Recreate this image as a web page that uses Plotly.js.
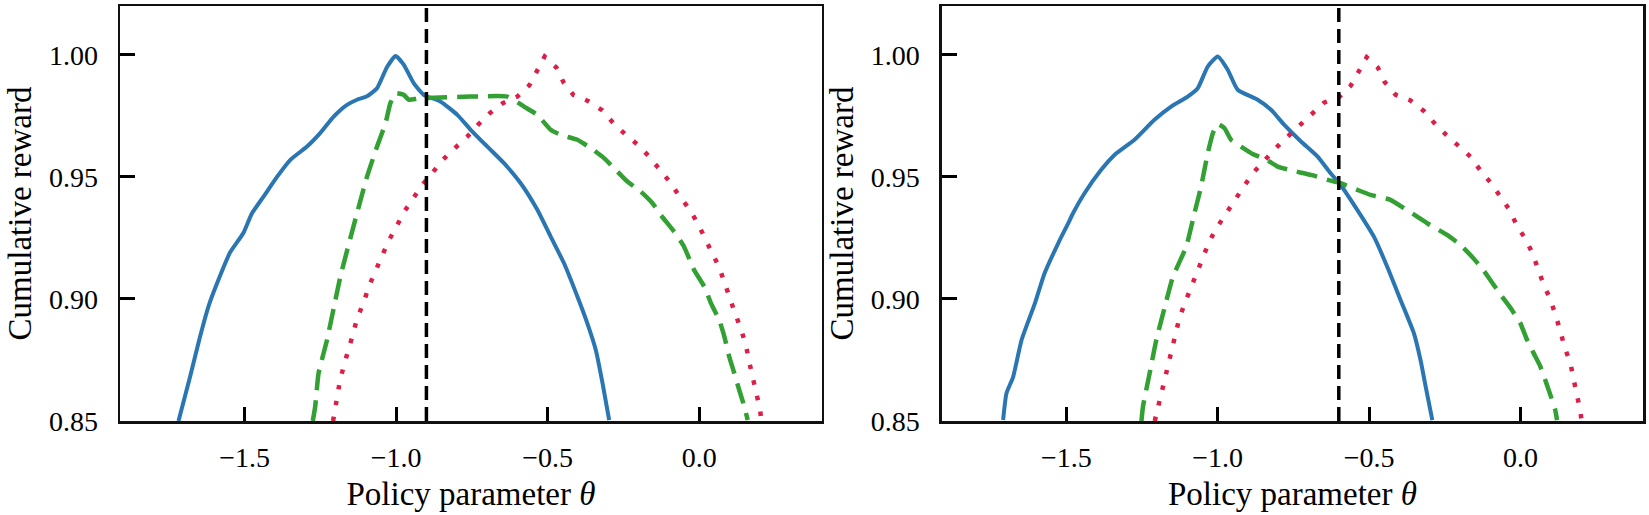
<!DOCTYPE html>
<html>
<head>
<meta charset="utf-8">
<script src="https://cdn.plot.ly/plotly-3.0.1.min.js"></script>
<style>html,body{margin:0;padding:0;background:#fff;}#chart{width:1649px;height:515px;}</style>
</head>
<body>
<div id="chart"></div>
<script>
// ---- Data ----
const thetaRef = [-0.9, -0.6];   // vertical dashed reference line per panel

// Left panel
const blueL_x = [-1.718,-1.680,-1.647,-1.619,-1.592,-1.548,-1.504,-1.476,-1.437,-1.393,-1.349,-1.294,-1.250,-1.206,-1.162,-1.129,-1.096,-1.063,-1.030,-1.002,-0.975,-0.942,-0.909,-0.854,-0.798,-0.754,-0.699,-0.644,-0.589,-0.534,-0.490,-0.446,-0.402,-0.369,-0.341,-0.319,-0.297];
const blueL_y = [0.850,0.868,0.8845,0.897,0.906,0.919,0.927,0.935,0.942,0.950,0.957,0.9624,0.968,0.9747,0.9795,0.9816,0.983,0.9863,0.995,0.9995,0.996,0.9884,0.9836,0.9809,0.9754,0.9693,0.9624,0.9556,0.9474,0.9365,0.9255,0.9146,0.901,0.890,0.879,0.8655,0.8504];

const greenL_x = [-1.275,-1.267,-1.256,-1.228,-1.206,-1.184,-1.157,-1.129,-1.096,-1.063,-1.035,-1.019,-1.002,-0.975,-0.958,-0.930,-0.898,-0.754,-0.633,-0.578,-0.534,-0.490,-0.457,-0.402,-0.358,-0.314,-0.281,-0.237,-0.193,-0.154,-0.127,-0.083,-0.050,-0.017,0.017,0.039,0.066,0.083,0.099,0.116,0.132,0.149,0.160];
const greenL_y = [0.850,0.8559,0.8695,0.8832,0.8962,0.9091,0.9221,0.9351,0.9501,0.9624,0.972,0.9802,0.9843,0.9836,0.9816,0.9820,0.9823,0.9829,0.9829,0.9788,0.9754,0.9693,0.9672,0.9652,0.9618,0.9577,0.9536,0.9481,0.944,0.9392,0.9344,0.9276,0.9214,0.9119,0.905,0.8982,0.8914,0.8846,0.8764,0.8695,0.8627,0.8559,0.8504];

const redL_x = [-1.208,-1.195,-1.186,-1.173,-1.157,-1.142,-1.129,-1.107,-1.091,-1.068,-1.046,-1.026,-0.999,-0.975,-0.945,-0.914,-0.879,-0.846,-0.806,-0.765,-0.730,-0.691,-0.648,-0.600,-0.560,-0.534,-0.510,-0.471,-0.448,-0.415,-0.367,-0.319,-0.283,-0.245,-0.202,-0.165,-0.130,-0.096,-0.066,-0.033,-0.005,0.017,0.042,0.066,0.083,0.099,0.119,0.138,0.154,0.165,0.177,0.190,0.201,0.205];
const redL_y = [0.850,0.8593,0.866,0.8725,0.879,0.8857,0.892,0.8985,0.9048,0.9112,0.9173,0.9235,0.9296,0.9354,0.9409,0.9467,0.9519,0.957,0.9618,0.9665,0.9713,0.9761,0.9802,0.9829,0.9876,0.9936,0.9993,0.9948,0.9888,0.9836,0.9811,0.9772,0.972,0.9676,0.9631,0.9583,0.9532,0.9478,0.9422,0.9369,0.931,0.9249,0.919,0.913,0.9067,0.9003,0.8939,0.8876,0.8811,0.8743,0.8678,0.8613,0.8545,0.850];

// Right panel
const blueR_x = [-1.709,-1.698,-1.676,-1.648,-1.604,-1.572,-1.527,-1.494,-1.478,-1.440,-1.385,-1.341,-1.275,-1.209,-1.154,-1.099,-1.066,-1.033,-1.000,-0.967,-0.934,-0.868,-0.824,-0.780,-0.725,-0.670,-0.627,-0.594,-0.539,-0.484,-0.440,-0.396,-0.352,-0.330,-0.313,-0.291];
const blueR_y = [0.8504,0.8613,0.868,0.8832,0.8982,0.9105,0.9228,0.931,0.9351,0.9433,0.9529,0.959,0.9652,0.9734,0.9788,0.9829,0.9863,0.9952,0.9993,0.9939,0.9857,0.9816,0.9775,0.9713,0.9645,0.9583,0.9515,0.9467,0.9365,0.9255,0.9132,0.8996,0.886,0.875,0.8641,0.8504];

const greenR_x = [-1.252,-1.247,-1.225,-1.203,-1.176,-1.148,-1.104,-1.077,-1.055,-1.033,-1.016,-1.000,-0.978,-0.956,-0.923,-0.885,-0.841,-0.802,-0.748,-0.692,-0.637,-0.594,-0.539,-0.495,-0.429,-0.385,-0.341,-0.308,-0.242,-0.198,-0.160,-0.127,-0.088,-0.061,-0.028,0.000,0.022,0.044,0.066,0.082,0.099,0.115,0.121];
const greenR_y = [0.850,0.8559,0.8695,0.8832,0.8962,0.9091,0.9214,0.9351,0.946,0.9597,0.9679,0.9717,0.970,0.9652,0.9624,0.9594,0.9572,0.9542,0.9524,0.9508,0.9488,0.9474,0.9447,0.9426,0.9406,0.9372,0.9337,0.931,0.9262,0.9221,0.9173,0.9126,0.9057,0.901,0.8955,0.890,0.8832,0.8777,0.8723,0.8668,0.8607,0.8545,0.8504];

const redR_x = [-1.208,-1.190,-1.178,-1.167,-1.154,-1.140,-1.127,-1.108,-1.088,-1.068,-1.046,-1.028,-1.002,-0.973,-0.942,-0.912,-0.879,-0.843,-0.808,-0.769,-0.729,-0.689,-0.649,-0.597,-0.561,-0.533,-0.508,-0.471,-0.448,-0.412,-0.363,-0.319,-0.284,-0.245,-0.204,-0.165,-0.132,-0.099,-0.066,-0.036,-0.014,0.016,0.040,0.060,0.077,0.099,0.117,0.132,0.145,0.165,0.175,0.187,0.198,0.202];
const redR_y = [0.850,0.8591,0.8657,0.8725,0.879,0.8855,0.892,0.8985,0.9048,0.9112,0.9173,0.9235,0.9294,0.9351,0.9409,0.9464,0.9522,0.9573,0.9618,0.9665,0.9712,0.9757,0.9804,0.9829,0.9873,0.9934,0.999,0.9948,0.9888,0.9836,0.9813,0.977,0.972,0.9672,0.9627,0.9583,0.9526,0.9477,0.9419,0.9365,0.9307,0.9246,0.9187,0.9122,0.9057,0.8999,0.8934,0.887,0.8805,0.8739,0.8675,0.861,0.8541,0.850];

const xTicks = [-1.5, -1.0, -0.5, 0.0];
const yTicks = [0.85, 0.90, 0.95, 1.00];
const xRange = [-1.911, 0.405];
const yRange = [0.85, 1.02];

// ---- Styles ----
const FONT = '"Liberation Serif", "Times New Roman", serif';
const cBlue = '#2a76b2', cGreen = '#33a033', cRed = '#dc1f48';

function series(x, y, xa, ya) {
  return [
    {x: x.blue, y: y.blue, xaxis: xa, yaxis: ya, type: 'scatter', mode: 'lines',
     line: {color: cBlue, width: 4, shape: 'spline', smoothing: 0.5}, showlegend: false, hoverinfo: 'skip'},
    {x: x.green, y: y.green, xaxis: xa, yaxis: ya, type: 'scatter', mode: 'lines',
     line: {color: cGreen, width: 4.5, dash: '21px,10px', shape: 'spline', smoothing: 0.4}, showlegend: false, hoverinfo: 'skip'},
    {x: x.red, y: y.red, xaxis: xa, yaxis: ya, type: 'scatter', mode: 'lines',
     line: {color: cRed, width: 4.5, dash: '4.5px,11.5px'}, showlegend: false, hoverinfo: 'skip'}
  ];
}

const data = [].concat(
  series({blue: blueL_x, green: greenL_x, red: redL_x}, {blue: blueL_y, green: greenL_y, red: redL_y}, 'x', 'y'),
  series({blue: blueR_x, green: greenR_x, red: redR_x}, {blue: blueR_y, green: greenR_y, red: redR_y}, 'x2', 'y2')
);

function xAxis(domain, anchor) {
  return {
    domain: domain, anchor: anchor, range: xRange,
    tickvals: xTicks, tickformat: '.1f',
    ticks: 'inside', ticklen: 14, tickwidth: 3, tickcolor: '#000',
    showline: true, linecolor: '#111', linewidth: 2.5, mirror: true,
    showgrid: false, zeroline: false,
    ticklabelstandoff: 10,
    tickfont: {family: FONT, size: 28, color: '#000'},
    title: {text: 'Policy parameter <i>θ</i>', font: {family: FONT, size: 33, color: '#000'}, standoff: 10}
  };
}
function yAxis(anchor) {
  return {
    anchor: anchor, range: yRange,
    tickvals: yTicks, tickformat: '.2f',
    ticks: 'inside', ticklen: 15, tickwidth: 3, tickcolor: '#000',
    showline: true, linecolor: '#111', linewidth: 2.5, mirror: true,
    showgrid: false, zeroline: false,
    ticklabelstandoff: 14,
    tickfont: {family: FONT, size: 28, color: '#000'},
    title: {text: 'Cumulative reward', font: {family: FONT, size: 33, color: '#000'}, standoff: 8}
  };
}

const shapes = [
  {type: 'line', xref: 'x', yref: 'y domain', x0: thetaRef[0], x1: thetaRef[0], y0: 0, y1: 1,
   line: {color: '#000', width: 3.5, dash: '14px,7px'}},
  {type: 'line', xref: 'x2', yref: 'y2 domain', x0: thetaRef[1], x1: thetaRef[1], y0: 0, y1: 1,
   line: {color: '#000', width: 3.5, dash: '14px,7px'}}
];

const layout = {
  width: 1649, height: 515,
  margin: {l: 120, r: 6, t: 6, b: 94},
  paper_bgcolor: '#fff', plot_bgcolor: '#fff',
  xaxis: xAxis([0, 0.4609], 'y'),
  yaxis: yAxis('x'),
  xaxis2: xAxis([0.5397, 1], 'y2'),
  yaxis2: yAxis('x2'),
  shapes: shapes,
  showlegend: false
};

Plotly.newPlot('chart', data, layout, {displayModeBar: false, staticPlot: true});
</script>
</body>
</html>
